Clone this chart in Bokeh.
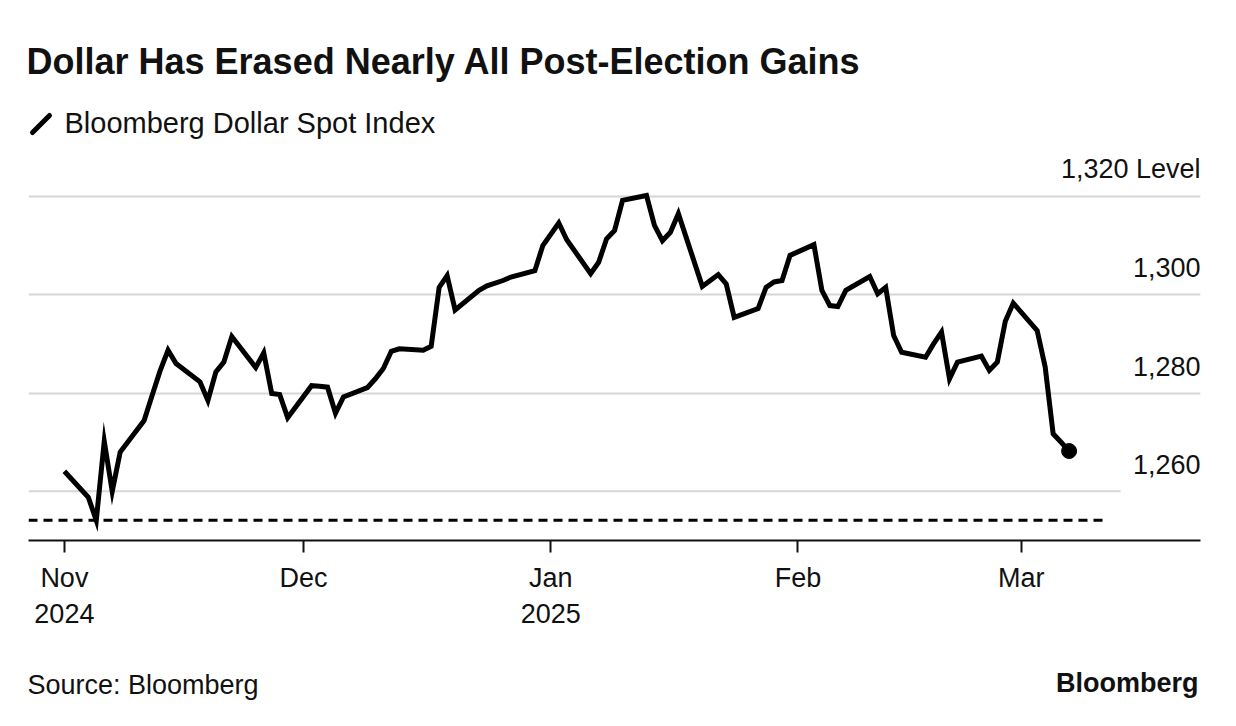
import pandas as pd
from bokeh.plotting import figure
from bokeh.layouts import column
from bokeh.models import ColumnDataSource, FixedTicker, Range1d
from bokeh.core.properties import value
from bokeh.embed import file_html
from bokeh.resources import INLINE

# ---------------- data ----------------
dates = [
    "2024-11-01", "2024-11-04", "2024-11-05", "2024-11-06", "2024-11-07", "2024-11-08",
    "2024-11-11", "2024-11-12", "2024-11-13", "2024-11-14", "2024-11-15",
    "2024-11-18", "2024-11-19", "2024-11-20", "2024-11-21", "2024-11-22",
    "2024-11-25", "2024-11-26", "2024-11-27", "2024-11-28", "2024-11-29",
    "2024-12-02", "2024-12-03", "2024-12-04", "2024-12-05", "2024-12-06",
    "2024-12-09", "2024-12-10", "2024-12-11", "2024-12-12", "2024-12-13",
    "2024-12-16", "2024-12-17", "2024-12-18", "2024-12-19", "2024-12-20",
    "2024-12-23", "2024-12-24", "2024-12-26", "2024-12-27",
    "2024-12-30", "2024-12-31", "2025-01-02", "2025-01-03",
    "2025-01-06", "2025-01-07", "2025-01-08", "2025-01-09", "2025-01-10",
    "2025-01-13", "2025-01-14", "2025-01-15", "2025-01-16", "2025-01-17",
    "2025-01-20", "2025-01-21", "2025-01-22", "2025-01-23", "2025-01-24",
    "2025-01-27", "2025-01-28", "2025-01-29", "2025-01-30", "2025-01-31",
    "2025-02-03", "2025-02-04", "2025-02-05", "2025-02-06", "2025-02-07",
    "2025-02-10", "2025-02-11", "2025-02-12", "2025-02-13", "2025-02-14",
    "2025-02-17", "2025-02-18", "2025-02-19", "2025-02-20", "2025-02-21",
    "2025-02-24", "2025-02-25", "2025-02-26", "2025-02-27", "2025-02-28",
    "2025-03-03", "2025-03-04", "2025-03-05", "2025-03-06", "2025-03-07",
]
values = [
    1264.1, 1258.8, 1254.1, 1270.2, 1260.0, 1268.0,
    1274.4, 1279.5, 1284.5, 1288.7, 1286.0,
    1282.3, 1278.5, 1284.3, 1286.3, 1291.5,
    1285.2, 1288.2, 1279.9, 1279.7, 1275.0,
    1281.5, 1281.4, 1281.2, 1275.9, 1279.2,
    1281.1, 1282.9, 1285.0, 1288.5, 1289.0,
    1288.7, 1289.5, 1301.5, 1303.9, 1296.9,
    1300.9, 1301.8, 1302.9, 1303.6,
    1304.9, 1310.0, 1314.6, 1311.2,
    1304.3, 1306.6, 1311.4, 1313.1, 1319.2,
    1320.2, 1314.1, 1311.0, 1312.7, 1316.5,
    1301.7, 1302.9, 1304.1, 1302.2, 1295.4,
    1297.2, 1301.5, 1302.6, 1302.9, 1308.0,
    1310.2, 1300.9, 1297.8, 1297.6, 1300.9,
    1303.7, 1300.2, 1301.5, 1291.7, 1288.3,
    1287.3, 1290.0, 1292.4, 1282.9, 1286.3,
    1287.5, 1284.6, 1286.3, 1294.6, 1298.3,
    1292.7, 1285.3, 1271.7, 1270.0, 1268.2,
]
series_name = "Bloomberg Dollar Spot Index"
election_date = "2024-11-05"

y_ticks = [1260, 1280, 1300, 1320]
y_tick_labels = ["1,260", "1,280", "1,300", "1,320 Level"]
x_tick_dates = ["2024-11-01", "2024-12-01", "2025-01-01", "2025-02-01", "2025-03-01"]
x_tick_labels = ["Nov\n2024", "Dec", "Jan\n2025", "Feb", "Mar"]

title_text = "Dollar Has Erased Nearly All Post-Election Gains"
source_text = "Source: Bloomberg"
brand_text = "Bloomberg"

# ---------------- layout / style settings ----------------
W = 1228
H_HEAD, H_MAIN, H_FOOT = 150, 500, 68
FL, FR = 28, 1200            # frame left / right (px); all figures share this frame
FB = 390                     # frame bottom inside main figure (px from its top)
x_start = pd.Timestamp("2024-10-27 12:00")
x_end = pd.Timestamp("2025-03-23 11:30")
y_start, y_end = 1250.0, 1329.35
ref_line_end = pd.Timestamp("2025-03-11 05:00")
low_grid_end = pd.Timestamp("2025-03-13 11:00")

FONT = "Liberation Sans"
INK = "#111111"
GRID = "#d6d6d6"


def blank_fig(h):
    f = figure(width=W, height=h, x_range=Range1d(FL, FR), y_range=Range1d(h, 0),
               x_axis_location=None, y_axis_location=None,
               output_backend="svg", toolbar_location=None,
               min_border_left=FL, min_border_right=W - FR, min_border_top=0, min_border_bottom=0,
               background_fill_color="white", border_fill_color="white")
    f.outline_line_color = None
    f.xgrid.visible = False
    f.ygrid.visible = False
    return f


# ---------------- header ----------------
head = blank_fig(H_HEAD)
head.text(x=[26], y=[61], text=[title_text], text_baseline="middle",
          text_font=value(FONT), text_font_size="36px", text_font_style="bold",
          text_color=INK)
head.segment(x0=[32], y0=[132], x1=[49], y1=[115], line_color="black",
             line_width=5, line_cap="round")
head.text(x=[64], y=[122], text=[series_name], text_baseline="middle",
          text_font=value(FONT), text_font_size="29px", text_color=INK)

# ---------------- main chart ----------------
dt = pd.to_datetime(dates)
src = ColumnDataSource(dict(date=dt, value=values))

p = figure(
    width=W, height=H_MAIN,
    x_axis_type="datetime", y_axis_location=None,
    x_range=Range1d(x_start, x_end), y_range=Range1d(y_start, y_end),
    output_backend="svg", toolbar_location=None,
    min_border_left=FL, min_border_right=W - FR, min_border_top=0,
    min_border_bottom=H_MAIN - FB,
    background_fill_color="white", border_fill_color="white",
)
p.outline_line_color = None
p.xgrid.visible = False
p.ygrid.ticker = FixedTicker(ticks=[t for t in y_ticks if t != y_ticks[0]])
p.ygrid.grid_line_color = GRID
p.ygrid.grid_line_width = 2

p.segment(x0=[x_start], y0=[y_ticks[0]], x1=[low_grid_end], y1=[y_ticks[0]],
          line_color=GRID, line_width=2)

ref_level = values[dates.index(election_date)]
p.segment(x0=[x_start], y0=[ref_level], x1=[ref_line_end], y1=[ref_level],
          line_color="black", line_width=3, line_dash="9 6")

p.line(x="date", y="value", source=src, line_color="black", line_width=5,
       line_join="miter")
p.scatter(x=[dt[-1]], y=[values[-1]], size=15, color="black")

p.text(x=[x_end] * len(y_ticks), y=y_ticks, text=y_tick_labels,
       text_align="right", text_baseline="middle", y_offset=-27,
       text_font=value(FONT), text_font_size="27px", text_color=INK)

tick_ms = [pd.Timestamp(d).value / 1e6 for d in x_tick_dates]
ax = p.xaxis[0]
ax.ticker = FixedTicker(ticks=tick_ms)
ax.major_label_overrides = {t: lab for t, lab in zip(tick_ms, x_tick_labels)}
ax.axis_line_color = INK
ax.axis_line_width = 2
ax.major_tick_line_color = INK
ax.major_tick_line_width = 2
ax.major_tick_out = 12
ax.major_tick_in = 0
ax.minor_tick_out = 0
ax.minor_tick_in = 0
ax.major_label_standoff = 10
ax.major_label_text_font = FONT
ax.major_label_text_font_size = "27px"
ax.major_label_text_color = INK
ax.major_label_text_line_height = 1.2

# ---------------- footer ----------------
foot = blank_fig(H_FOOT)
foot.text(x=[27], y=[34], text=[source_text], text_baseline="middle",
          text_font=value(FONT), text_font_size="27px", text_color=INK)
foot.text(x=[1198], y=[32], text=[brand_text], text_baseline="middle", text_align="right",
          text_font=value(FONT), text_font_size="27px", text_font_style="bold",
          text_color=INK)

layout = column(head, p, foot, spacing=0)
open("out.html", "w").write(file_html(layout, INLINE))
